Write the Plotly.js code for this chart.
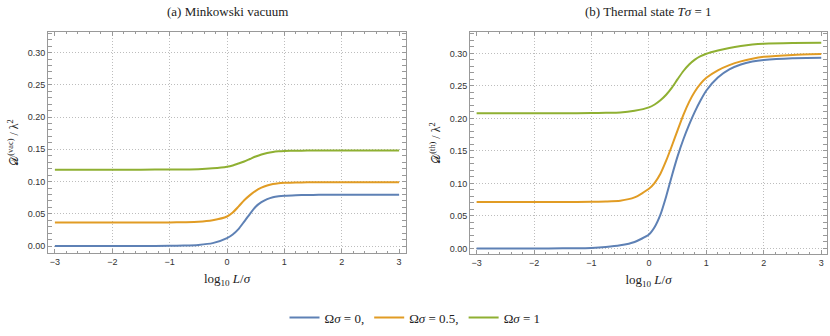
<!DOCTYPE html>
<html>
<head>
<meta charset="utf-8">
<script src="https://cdn.plot.ly/plotly-3.0.1.min.js"></script>
<style>html,body{margin:0;padding:0;background:#fff;}#chart{width:830px;height:336px;}</style>
</head>
<body>
<div id="chart"></div>
<script>
// x positions: log10 L/sigma
const logL = [-3, -2.5, -2, -1.5, -1, -0.75, -0.5, -0.25, 0, 0.1, 0.2, 0.3, 0.4, 0.5, 0.6, 0.7, 0.8, 0.9, 1, 1.2, 1.4, 1.6, 1.8, 2, 2.5, 3];

// (a) Minkowski vacuum
const vacOmega0   = [0, 0, 0, 0.0001, 0.0003, 0.0008, 0.0018, 0.0045, 0.0124, 0.018, 0.0263, 0.038, 0.050, 0.061, 0.0680, 0.0727, 0.0757, 0.0772, 0.0780, 0.0788, 0.0792, 0.0794, 0.0795, 0.0796, 0.0796, 0.0796];
const vacOmega05  = [0.0365, 0.0365, 0.0365, 0.0366, 0.0367, 0.0370, 0.0376, 0.0400, 0.0458, 0.0520, 0.0612, 0.0710, 0.0790, 0.0857, 0.0905, 0.0940, 0.0962, 0.0974, 0.0980, 0.0986, 0.0988, 0.0989, 0.0989, 0.0989, 0.0989, 0.0989];
const vacOmega1   = [0.1185, 0.1185, 0.1185, 0.1185, 0.1186, 0.1188, 0.1192, 0.1205, 0.1230, 0.1250, 0.1280, 0.1312, 0.1350, 0.1388, 0.1420, 0.1444, 0.1460, 0.1469, 0.1474, 0.1478, 0.1480, 0.1481, 0.1481, 0.1481, 0.1481, 0.1481];

// (b) Thermal state T sigma = 1
const thOmega0    = [0, 0, 0, 0.0002, 0.0008, 0.0022, 0.0048, 0.0100, 0.0215, 0.0330, 0.0520, 0.0800, 0.1120, 0.1420, 0.1680, 0.1905, 0.2105, 0.2280, 0.2430, 0.2630, 0.2755, 0.2830, 0.2875, 0.2900, 0.2928, 0.2935];
const thOmega05   = [0.0715, 0.0715, 0.0715, 0.0715, 0.0718, 0.0723, 0.0735, 0.0785, 0.0918, 0.1010, 0.1150, 0.1350, 0.1580, 0.1820, 0.2055, 0.2255, 0.2415, 0.2535, 0.2625, 0.2740, 0.2820, 0.2878, 0.2920, 0.2948, 0.2978, 0.2990];
const thOmega1    = [0.2080, 0.2080, 0.2080, 0.2081, 0.2083, 0.2086, 0.2091, 0.2118, 0.2170, 0.2215, 0.2280, 0.2365, 0.2475, 0.2605, 0.2730, 0.2830, 0.2905, 0.2958, 0.2995, 0.3045, 0.3085, 0.3115, 0.3137, 0.3150, 0.3162, 0.3166];

const seriesNames = ['Ω<i>σ</i> = 0,', 'Ω<i>σ</i> = 0.5,', 'Ω<i>σ</i> = 1'];
const seriesColors = ['#5E81B5', '#E19C24', '#8FB032'];
const xTickVals = [-3, -2, -1, 0, 1, 2, 3];
const xGridVals = [-2, -1, 0, 1, 2];

const vacSeries = [vacOmega0, vacOmega05, vacOmega1];
const thSeries = [thOmega0, thOmega05, thOmega1];

const traces = [];
// empty traces that carry the grid-only overlay axes
traces.push({x: [], y: [], type: 'scatter', mode: 'lines', xaxis: 'x3', yaxis: 'y', showlegend: false, hoverinfo: 'skip'});
traces.push({x: [], y: [], type: 'scatter', mode: 'lines', xaxis: 'x4', yaxis: 'y2', showlegend: false, hoverinfo: 'skip'});
vacSeries.forEach((ys, i) => {
  traces.push({x: logL, y: ys, type: 'scatter', mode: 'lines', name: seriesNames[i],
    line: {color: seriesColors[i], width: 2, shape: 'spline', smoothing: 0.6},
    xaxis: 'x', yaxis: 'y', showlegend: true, legendgroup: 'g' + i});
});
thSeries.forEach((ys, i) => {
  traces.push({x: logL, y: ys, type: 'scatter', mode: 'lines', name: seriesNames[i],
    line: {color: seriesColors[i], width: 2, shape: 'spline', smoothing: 0.6},
    xaxis: 'x2', yaxis: 'y2', showlegend: false, legendgroup: 'g' + i});
});

const tickFont = {family: '"Liberation Sans", Arial, sans-serif', size: 9, color: '#333'};
const serif = '"Liberation Serif", "Times New Roman", "DejaVu Serif", serif';
const gridDash = '1px,2px';
const gridColor = '#bdbdbd';

function xAxis(domain, range, anchor) {
  return {
    domain: domain, range: range, anchor: anchor,
    tickvals: xTickVals, tickfont: tickFont,
    ticks: 'inside', ticklen: 4, tickcolor: '#999', tickwidth: 1,
    minor: {ticks: 'inside', ticklen: 2, dtick: 0.2, tick0: 0, tickcolor: '#999', showgrid: false},
    showline: true, linecolor: '#999', linewidth: 1, mirror: 'allticks',
    showgrid: false, zeroline: false,
    title: {text: 'log<sub>10</sub> <i>L</i>/<i>σ</i>', font: {family: serif, size: 13, color: '#222'}, standoff: 8}
  };
}
function gridAxis(overlay, range, anchor) {
  return {
    overlaying: overlay, range: range, anchor: anchor, side: 'bottom',
    tickvals: xGridVals, showticklabels: false, ticks: '',
    showline: false, zeroline: false,
    showgrid: true, gridcolor: gridColor, griddash: gridDash, gridwidth: 1
  };
}
function yAxis(domain, range, anchor, titleText) {
  return {
    domain: domain, range: range, anchor: anchor,
    dtick: 0.05, tick0: 0, tickformat: '.2f', tickfont: tickFont,
    ticks: 'inside', ticklen: 4, tickcolor: '#999', tickwidth: 1,
    minor: {ticks: 'inside', ticklen: 2, dtick: 0.01, tick0: 0, tickcolor: '#999', showgrid: false},
    showline: true, linecolor: '#999', linewidth: 1, mirror: 'allticks',
    showgrid: true, gridcolor: gridColor, griddash: gridDash, gridwidth: 1,
    zeroline: false,
    title: {text: titleText, font: {family: serif, size: 12, color: '#222'}, standoff: 6}
  };
}

const xRangeA = [-3.12, 3.12];
const xRangeB = [-3.115, 3.1];

const layout = {
  width: 830, height: 336,
  margin: {l: 0, r: 0, t: 0, b: 0},
  paper_bgcolor: '#fff', plot_bgcolor: '#fff',
  showlegend: true,
  legend: {orientation: 'h', x: 0.5, xanchor: 'center', y: 0.055, yanchor: 'middle',
    font: {family: serif, size: 13, color: '#222'}, itemwidth: 30, tracegroupgap: 0},
  xaxis: xAxis([48/830, 406/830], xRangeA, 'y'),
  yaxis: yAxis([1 - 253/336, 1 - 32/336], [-0.0108, 0.332], 'x', '𝒟<sup>(vac)</sup> / λ<sup>2</sup>'),
  xaxis2: xAxis([470/830, 827/830], xRangeB, 'y2'),
  yaxis2: yAxis([1 - 254/336, 1 - 32/336], [-0.0085, 0.333], 'x2', '𝒟<sup>(th)</sup> / λ<sup>2</sup>'),
  xaxis3: gridAxis('x', xRangeA, 'y'),
  xaxis4: gridAxis('x2', xRangeB, 'y2'),
  annotations: [
    {text: '(a) Minkowski vacuum', xref: 'paper', yref: 'paper', x: 227/830, y: 1 - 12/336,
      xanchor: 'center', yanchor: 'middle', showarrow: false, font: {family: serif, size: 13, color: '#222'}},
    {text: '(b) Thermal state <i>Tσ</i> = 1', xref: 'paper', yref: 'paper', x: 648/830, y: 1 - 12/336,
      xanchor: 'center', yanchor: 'middle', showarrow: false, font: {family: serif, size: 13, color: '#222'}}
  ]
};

Plotly.newPlot('chart', traces, layout, {displayModeBar: false, staticPlot: true});
</script>
</body>
</html>
